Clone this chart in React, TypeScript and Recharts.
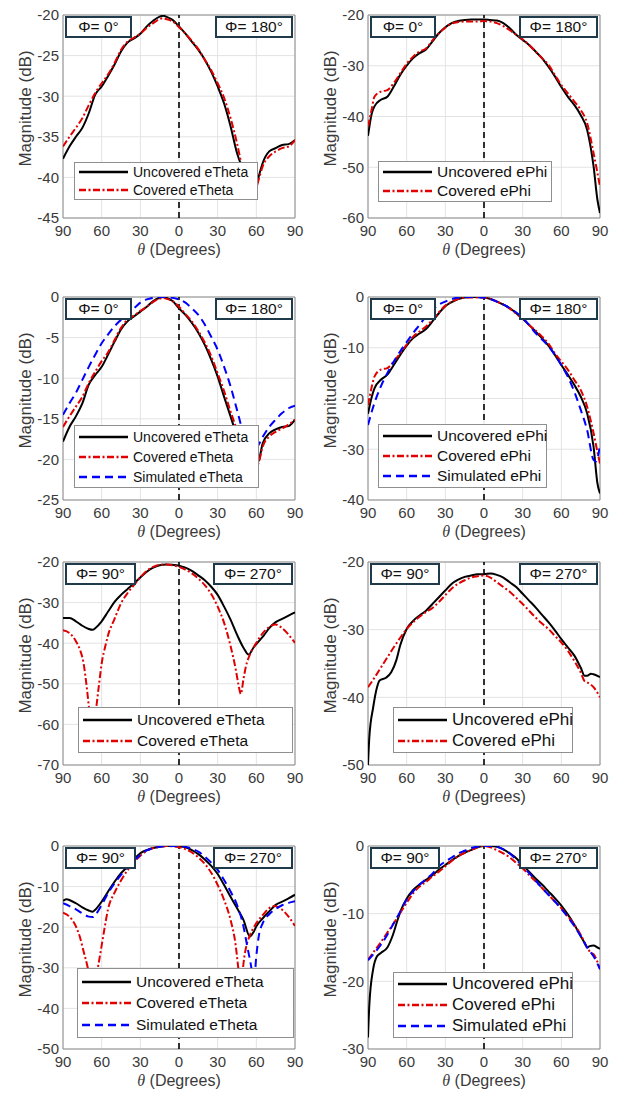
import {
  CartesianGrid,
  Line,
  LineChart,
  ReferenceArea,
  ReferenceLine,
  XAxis,
  YAxis,
} from "recharts";

const thetaTicks = [-90, -60, -30, 0, 30, 60, 90];

// row 1 left: eTheta, phi 0 / 180
const p1Theta = [-90, -85, -80, -75, -70, -65, -60, -55, -50, -45, -40, -35, -30, -25, -20, -15, -12, -10, -5, 0, 5, 10, 15, 20, 25, 30, 35, 40, 45, 48, 52, 56, 60, 62, 65, 70, 75, 80, 85, 90];
const p1Uncovered = [-37.7, -36.2, -35.0, -33.9, -32.1, -29.8, -28.8, -27.5, -26.1, -24.5, -23.4, -22.9, -22.3, -21.4, -20.7, -20.2, -20.1, -20.2, -20.6, -21.4, -22.3, -23.3, -24.3, -25.5, -27.0, -28.8, -30.9, -33.7, -37.0, -38.4, -40.5, -41.5, -41.0, -39.8, -38.2, -36.8, -36.4, -36.0, -35.9, -35.4];
const p1Covered = [-36.2, -35.0, -33.9, -32.7, -31.1, -29.6, -28.4, -27.3, -25.9, -24.3, -23.3, -22.8, -22.3, -21.6, -21.0, -20.5, -20.4, -20.5, -20.8, -21.5, -22.3, -23.2, -24.2, -25.5, -26.8, -28.4, -30.2, -32.7, -35.8, -38.0, -40.5, -41.8, -41.2, -40.2, -38.6, -37.4, -36.8, -36.4, -36.2, -35.4];

// row 1 right: ePhi, phi 0 / 180
const p2Theta = [-90, -87, -85, -80, -75, -70, -65, -60, -55, -50, -45, -40, -35, -30, -25, -20, -15, -10, -5, 0, 5, 10, 15, 20, 25, 30, 35, 40, 45, 50, 55, 60, 65, 70, 75, 80, 85, 88, 90];
const p2Uncovered = [-43.8, -39.3, -38.0, -36.7, -36.1, -34.1, -31.8, -30.0, -28.5, -27.5, -26.8, -25.2, -23.6, -22.4, -21.6, -21.2, -21.0, -20.9, -20.9, -20.9, -21.0, -21.1, -21.6, -22.6, -23.9, -24.9, -25.9, -27.2, -28.5, -30.2, -32.1, -34.2, -36.1, -37.7, -39.7, -42.6, -49.8, -56.4, -59.0];
const p2Covered = [-42.0, -38.4, -36.1, -35.1, -34.8, -33.4, -31.5, -29.6, -28.2, -27.2, -26.6, -25.0, -23.6, -22.5, -21.7, -21.4, -21.3, -21.3, -21.3, -21.2, -21.3, -21.6, -22.2, -23.0, -23.9, -24.8, -25.9, -27.2, -28.5, -29.8, -31.8, -33.8, -35.4, -37.0, -38.7, -41.3, -47.2, -51.1, -53.8];

// row 2 left: normalised eTheta, phi 0 / 180
const p3Theta = [-90, -85, -80, -75, -70, -65, -60, -55, -50, -45, -40, -35, -30, -25, -20, -15, -12, -10, -5, 0, 5, 10, 15, 20, 25, 30, 35, 40, 45, 50, 55, 60, 62, 65, 70, 75, 80, 85, 90];
const p3Uncovered = [-17.8, -16.0, -14.7, -13.1, -10.8, -9.6, -8.6, -7.1, -5.5, -4.0, -3.0, -2.4, -1.8, -1.2, -0.5, -0.1, 0, -0.1, -0.5, -1.4, -2.2, -3.2, -4.4, -5.9, -7.7, -9.8, -12.3, -14.7, -17.2, -19.5, -21.0, -20.6, -20.1, -18.0, -16.8, -16.3, -16.0, -15.9, -15.1];
const p3Covered = [-16.0, -14.7, -13.5, -12.3, -10.6, -9.2, -7.9, -6.8, -5.3, -3.8, -2.8, -2.3, -1.7, -1.2, -0.6, -0.2, -0.1, -0.2, -0.5, -1.2, -2.1, -3.0, -4.2, -5.6, -7.3, -9.4, -11.6, -14.1, -16.4, -19.0, -21.0, -21.0, -20.3, -18.4, -17.2, -16.6, -16.2, -15.7, -15.1];
const p3SimTheta = [-90, -85, -80, -75, -70, -65, -60, -55, -50, -45, -40, -35, -30, -25, -20, -15, -10, -5, 0, 5, 10, 15, 20, 25, 30, 35, 40, 45, 50, 55, 60, 65, 70, 75, 80, 85, 90];
const p3Simulated = [-14.5, -13.1, -11.8, -10.2, -8.6, -7.1, -5.7, -4.6, -3.6, -2.8, -2.0, -1.4, -0.7, -0.3, -0.1, 0, 0, -0.1, -0.3, -0.7, -1.4, -2.2, -3.4, -4.9, -6.5, -8.6, -11.0, -13.9, -16.8, -18.5, -18.5, -17.2, -16.0, -15.1, -14.3, -13.7, -13.4];

// row 2 right: normalised ePhi, phi 0 / 180
const p4Theta = [-90, -87, -85, -80, -75, -70, -65, -60, -55, -50, -45, -40, -35, -30, -25, -20, -15, -10, -5, 0, 5, 10, 15, 20, 25, 30, 35, 40, 45, 50, 55, 60, 65, 70, 75, 80, 85, 88, 90];
const p4Uncovered = [-23.0, -19.6, -18.0, -16.3, -15.3, -13.4, -11.4, -9.6, -8.1, -7.2, -6.3, -4.8, -3.2, -1.8, -1.0, -0.4, -0.1, 0, 0, -0.1, -0.4, -0.9, -1.5, -2.2, -3.2, -4.3, -5.5, -6.8, -8.1, -9.6, -11.4, -13.4, -15.3, -17.3, -19.6, -22.9, -29.5, -36.7, -38.7];
const p4Covered = [-21.3, -17.6, -15.7, -14.3, -14.0, -12.7, -11.1, -9.4, -7.8, -6.8, -5.8, -4.5, -3.0, -1.7, -0.9, -0.4, -0.1, -0.1, -0.1, -0.1, -0.4, -0.9, -1.5, -2.3, -3.3, -4.3, -5.5, -6.6, -7.8, -9.2, -11.1, -12.7, -14.3, -16.3, -18.3, -21.6, -26.8, -30.5, -32.8];
const p4SimTheta = [-90, -85, -80, -75, -70, -65, -60, -55, -50, -45, -40, -35, -30, -25, -20, -10, 0, 10, 20, 30, 40, 50, 60, 65, 70, 75, 80, 85, 87, 90];
const p4Simulated = [-25.2, -20.9, -17.6, -15.0, -12.7, -10.7, -8.9, -7.1, -5.5, -3.8, -2.5, -1.5, -0.9, -0.4, -0.1, 0, -0.1, -0.9, -2.2, -4.1, -7.1, -9.7, -13.4, -15.7, -18.6, -22.2, -26.2, -32.1, -32.4, -29.1];

// row 3 left: eTheta, phi 90 / 270
const p5UncTheta = [-90, -85, -80, -75, -70, -67, -65, -60, -55, -50, -45, -40, -35, -30, -25, -20, -15, -10, -5, 0, 5, 10, 15, 20, 25, 30, 35, 40, 45, 50, 54, 58, 62, 66, 70, 75, 80, 85, 90];
const p5Uncovered = [-33.8, -33.8, -34.6, -35.7, -36.5, -36.7, -36.3, -34.6, -32.2, -29.8, -28.1, -26.7, -25.3, -23.8, -22.4, -21.4, -20.8, -20.6, -20.7, -20.9, -21.4, -22.2, -23.3, -24.5, -26.1, -28.1, -31.0, -34.2, -37.9, -41.1, -42.8, -41.0, -39.5, -38.0, -36.3, -34.8, -34.0, -33.2, -32.4];
const p5CovTheta = [-90, -85, -80, -77, -74, -72, -70, -67, -64, -62, -60, -57, -55, -50, -45, -40, -35, -30, -25, -20, -15, -10, -5, 0, 5, 10, 15, 20, 25, 30, 35, 40, 44, 46, 48, 50, 52, 55, 60, 65, 70, 75, 80, 85, 90];
const p5Covered = [-36.8, -37.5, -39.5, -41.5, -45.0, -49.7, -55.4, -64.0, -55.4, -50.0, -45.0, -40.5, -38.0, -34.0, -30.2, -27.7, -25.7, -23.8, -22.2, -21.2, -20.7, -20.6, -20.8, -21.2, -21.9, -22.8, -24.1, -25.7, -27.9, -31.0, -35.0, -40.7, -46.4, -50.0, -52.5, -48.9, -45.6, -42.8, -39.9, -37.5, -36.0, -35.4, -36.3, -37.9, -39.9];

// row 3 right: ePhi, phi 90 / 270
const p6UncTheta = [-90, -89, -86, -83, -81, -76, -72, -68, -65, -60, -55, -50, -45, -40, -35, -30, -25, -20, -15, -10, -5, 0, 5, 10, 15, 20, 25, 30, 35, 40, 45, 50, 55, 60, 65, 70, 75, 78, 80, 83, 85, 90];
const p6Uncovered = [-50, -46, -41.5, -38.5, -37.5, -37.1, -36.3, -34.5, -32.3, -29.9, -28.7, -27.9, -27.2, -26.2, -25.2, -24.2, -23.2, -22.6, -22.2, -22.0, -21.8, -21.8, -21.7, -21.9, -22.3, -23.0, -23.7, -24.7, -25.7, -26.7, -27.8, -28.9, -30.1, -31.4, -32.6, -33.8, -35.6, -36.8, -36.8, -36.5, -36.6, -37.0];
const p6CovTheta = [-90, -85, -80, -75, -70, -65, -60, -55, -50, -45, -40, -35, -30, -25, -20, -15, -10, -5, 0, 5, 10, 15, 20, 25, 30, 35, 40, 45, 50, 55, 60, 65, 70, 75, 78, 80, 85, 90];
const p6Covered = [-38.5, -37.1, -35.6, -34.1, -32.6, -31.2, -29.9, -28.9, -28.1, -27.4, -26.8, -25.9, -24.9, -23.9, -23.2, -22.7, -22.3, -22.1, -22.0, -22.3, -23.0, -23.7, -24.4, -25.3, -26.2, -27.2, -28.2, -29.1, -29.9, -30.9, -31.9, -33.1, -34.6, -36.3, -37.6, -37.8, -38.5, -40.0];

// row 4 left: normalised eTheta, phi 90 / 270
const p7UncTheta = [-90, -87, -85, -80, -75, -70, -67, -65, -60, -55, -50, -45, -40, -35, -30, -25, -20, -15, -10, -5, 0, 5, 10, 15, 20, 25, 30, 35, 40, 45, 50, 55, 58, 60, 65, 70, 75, 80, 85, 90];
const p7Uncovered = [-13.5, -13.1, -13.3, -14.1, -15.1, -15.9, -16.2, -15.7, -13.7, -11.2, -8.8, -6.7, -5.1, -3.3, -1.8, -1.0, -0.5, -0.2, 0, 0, -0.1, -0.3, -1.0, -2.0, -3.3, -4.9, -6.9, -9.6, -12.5, -15.3, -18.2, -22.3, -21.1, -19.8, -17.8, -16.1, -14.5, -13.7, -12.9, -12.0];
const p7CovTheta = [-90, -85, -80, -77, -74, -71, -67, -63, -61, -58, -55, -50, -45, -40, -35, -30, -25, -20, -15, -10, -5, 0, 5, 10, 15, 20, 25, 30, 35, 40, 44, 46, 48, 50, 52, 55, 60, 65, 70, 74, 80, 85, 90];
const p7Covered = [-16.4, -17.4, -19.8, -22.3, -26.0, -29.7, -37.0, -30.1, -26.4, -20.7, -15.5, -11.5, -8.5, -6.0, -4.0, -2.4, -1.2, -0.5, -0.2, 0, -0.1, -0.3, -0.8, -1.6, -2.8, -4.4, -6.6, -9.6, -13.3, -18.2, -24.5, -30.1, -36.0, -29.0, -25.0, -22.0, -19.0, -17.0, -15.3, -14.8, -15.7, -17.4, -19.7];
const p7SimTheta = [-90, -85, -80, -75, -70, -67, -65, -60, -55, -50, -45, -40, -35, -30, -25, -20, -15, -10, -5, 0, 5, 10, 15, 20, 25, 30, 35, 40, 45, 50, 53, 56, 58, 60, 62, 65, 70, 75, 80, 85, 90];
const p7Simulated = [-14.1, -14.8, -15.6, -16.6, -17.4, -17.5, -17.0, -14.5, -11.6, -9.2, -7.1, -5.2, -3.6, -2.2, -1.1, -0.5, -0.2, 0, 0, 0, -0.2, -0.7, -1.4, -2.6, -4.1, -5.9, -8.4, -11.2, -14.5, -19.8, -24.8, -29.7, -34.0, -27.0, -22.0, -19.0, -16.8, -15.5, -14.6, -14.0, -13.6];

// row 4 right: normalised ePhi, phi 90 / 270
const p8UncTheta = [-90, -89, -86, -83, -80, -75, -71, -67, -64, -60, -55, -50, -45, -40, -35, -30, -25, -20, -15, -10, -5, 0, 5, 10, 15, 20, 25, 30, 35, 40, 45, 50, 55, 60, 65, 70, 75, 78, 80, 82, 85, 88, 90];
const p8Uncovered = [-28.3, -23.6, -18.2, -16.3, -15.8, -15.0, -13.3, -10.9, -9.3, -7.8, -6.5, -5.7, -5.0, -4.3, -3.5, -2.8, -2.1, -1.5, -1.0, -0.6, -0.2, 0, 0, -0.1, -0.5, -1.1, -1.8, -2.8, -3.8, -4.8, -5.7, -6.7, -7.7, -8.8, -10.1, -11.6, -13.3, -14.3, -15.0, -14.8, -14.7, -15.0, -15.2];
const p8CovTheta = [-90, -85, -80, -75, -70, -65, -60, -55, -50, -45, -40, -35, -30, -25, -20, -15, -10, -5, 0, 5, 10, 15, 20, 25, 30, 35, 40, 45, 50, 55, 60, 65, 70, 75, 80, 83, 85, 90];
const p8Covered = [-16.8, -15.5, -14.2, -12.8, -11.4, -9.9, -8.4, -7.0, -6.0, -5.3, -4.5, -3.8, -3.0, -2.2, -1.5, -1.0, -0.6, -0.2, 0, -0.2, -0.6, -1.1, -1.7, -2.5, -3.3, -4.3, -5.2, -6.2, -7.2, -8.2, -9.2, -10.4, -11.6, -13.1, -15.0, -15.8, -16.0, -18.2];
const p8SimTheta = [-90, -85, -80, -75, -70, -65, -60, -55, -50, -45, -40, -35, -30, -25, -20, -15, -10, -5, 0, 5, 10, 15, 20, 25, 30, 35, 40, 45, 50, 55, 60, 65, 70, 75, 80, 85, 90];
const p8Simulated = [-16.9, -15.8, -14.6, -13.1, -11.4, -9.7, -7.9, -6.7, -5.7, -4.9, -4.1, -3.0, -2.3, -1.7, -1.1, -0.7, -0.3, -0.1, 0, 0, -0.1, -0.5, -1.1, -2.0, -3.0, -4.0, -5.1, -6.2, -7.2, -8.2, -9.3, -10.5, -11.8, -13.3, -15.0, -16.3, -18.2];

const textColor = "#3a3a3a";
const axisColor = "#8c8c8c";
const gridColor = "#e3e3e3";
const phiBorder = "#1f3a4a";

const UNCOVERED = { color: "#000000", dash: undefined as string | undefined };
const COVERED = { color: "#e00000", dash: "7 2.5 2 2.5" };
const SIMULATED = { color: "#0000ff", dash: "8 5" };

// chart box (every panel uses the same plot rectangle)
const CHART_W = 310;
const CHART_H = 258;
const PLOT_L = 63;
const PLOT_R = 295;
const PLOT_T = 10;
const Y_AXIS_W = 45;

type Series = {
  name: string;
  theta: number[];
  mag: number[];
  color: string;
  dash?: string;
};

type LegendSpec = {
  left: number;
  top: number;
  width: number;
  height: number;
  fontSize: number;
  rowH: number;
};

type PanelSpec = {
  left: number;
  top: number;
  yDomain: [number, number];
  yTicks: number[];
  phi: [string, string];
  phiW: [number, number];
  series: Series[];
  legend: LegendSpec;
};

const toPoints = (theta: number[], mag: number[]) =>
  theta.map((t, i) => ({ theta: t, mag: mag[i] }));

const PHI_A: [string, string] = ["Φ= 0°", "Φ= 180°"];
const PHI_B: [string, string] = ["Φ= 90°", "Φ= 270°"];

const panels: PanelSpec[] = [
  {
    left: 0,
    top: 5,
    yDomain: [-45, -20],
    yTicks: [-45, -40, -35, -30, -25, -20],
    phi: PHI_A,
    phiW: [67, 78],
    series: [
      { name: "Uncovered eTheta", theta: p1Theta, mag: p1Uncovered, ...UNCOVERED },
      { name: "Covered eTheta", theta: p1Theta, mag: p1Covered, ...COVERED },
    ],
    legend: { left: 74, top: 157, width: 184, height: 38, fontSize: 14, rowH: 18.5 },
  },
  {
    left: 305,
    top: 5,
    yDomain: [-60, -20],
    yTicks: [-60, -50, -40, -30, -20],
    phi: PHI_A,
    phiW: [66, 79],
    series: [
      { name: "Uncovered ePhi", theta: p2Theta, mag: p2Uncovered, ...UNCOVERED },
      { name: "Covered ePhi", theta: p2Theta, mag: p2Covered, ...COVERED },
    ],
    legend: { left: 73, top: 156, width: 174, height: 41, fontSize: 15.5, rowH: 19 },
  },
  {
    left: 0,
    top: 287,
    yDomain: [-25, 0],
    yTicks: [-25, -20, -15, -10, -5, 0],
    phi: PHI_A,
    phiW: [67, 78],
    series: [
      { name: "Uncovered eTheta", theta: p3Theta, mag: p3Uncovered, ...UNCOVERED },
      { name: "Covered eTheta", theta: p3Theta, mag: p3Covered, ...COVERED },
      { name: "Simulated eTheta", theta: p3SimTheta, mag: p3Simulated, ...SIMULATED },
    ],
    legend: { left: 74, top: 138, width: 185, height: 63, fontSize: 14, rowH: 20 },
  },
  {
    left: 305,
    top: 287,
    yDomain: [-40, 0],
    yTicks: [-40, -30, -20, -10, 0],
    phi: PHI_A,
    phiW: [66, 79],
    series: [
      { name: "Uncovered ePhi", theta: p4Theta, mag: p4Uncovered, ...UNCOVERED },
      { name: "Covered ePhi", theta: p4Theta, mag: p4Covered, ...COVERED },
      { name: "Simulated ePhi", theta: p4SimTheta, mag: p4Simulated, ...SIMULATED },
    ],
    legend: { left: 73, top: 137, width: 169, height: 64, fontSize: 15.5, rowH: 20 },
  },
  {
    left: 0,
    top: 552,
    yDomain: [-70, -20],
    yTicks: [-70, -60, -50, -40, -30, -20],
    phi: PHI_B,
    phiW: [71, 80],
    series: [
      { name: "Uncovered eTheta", theta: p5UncTheta, mag: p5Uncovered, ...UNCOVERED },
      { name: "Covered eTheta", theta: p5CovTheta, mag: p5Covered, ...COVERED },
    ],
    legend: { left: 78, top: 155, width: 215, height: 46, fontSize: 15.5, rowH: 21 },
  },
  {
    left: 305,
    top: 552,
    yDomain: [-50, -20],
    yTicks: [-50, -40, -30, -20],
    phi: PHI_B,
    phiW: [70, 79],
    series: [
      { name: "Uncovered ePhi", theta: p6UncTheta, mag: p6Uncovered, ...UNCOVERED },
      { name: "Covered ePhi", theta: p6CovTheta, mag: p6Covered, ...COVERED },
    ],
    legend: { left: 88, top: 155, width: 180, height: 46, fontSize: 17, rowH: 21 },
  },
  {
    left: 0,
    top: 836,
    yDomain: [-50, 0],
    yTicks: [-50, -40, -30, -20, -10, 0],
    phi: PHI_B,
    phiW: [71, 80],
    series: [
      { name: "Uncovered eTheta", theta: p7UncTheta, mag: p7Uncovered, ...UNCOVERED },
      { name: "Covered eTheta", theta: p7CovTheta, mag: p7Covered, ...COVERED },
      { name: "Simulated eTheta", theta: p7SimTheta, mag: p7Simulated, ...SIMULATED },
    ],
    legend: { left: 77, top: 132, width: 217, height: 70, fontSize: 15.5, rowH: 21.5 },
  },
  {
    left: 305,
    top: 836,
    yDomain: [-30, 0],
    yTicks: [-30, -20, -10, 0],
    phi: PHI_B,
    phiW: [70, 79],
    series: [
      { name: "Uncovered ePhi", theta: p8UncTheta, mag: p8Uncovered, ...UNCOVERED },
      { name: "Covered ePhi", theta: p8CovTheta, mag: p8Covered, ...COVERED },
      { name: "Simulated ePhi", theta: p8SimTheta, mag: p8Simulated, ...SIMULATED },
    ],
    legend: { left: 88, top: 136, width: 180, height: 66, fontSize: 17, rowH: 21 },
  },
];

function XLabel(props: any) {
  const vb = props.viewBox || {};
  const cx = vb.x + vb.width / 2;
  return (
    <text x={cx} y={vb.y + 37} textAnchor="middle" fontSize={16} fill={textColor}>
      <tspan fontStyle="italic" fontFamily="'Liberation Serif', serif">θ</tspan> (Degrees)
    </text>
  );
}

function YLabel(props: any) {
  const vb = props.viewBox || {};
  const x = vb.x + vb.width - 38;
  const y = vb.y + vb.height / 2 - 8;
  return (
    <text
      x={x}
      y={y}
      transform={`rotate(-90 ${x} ${y})`}
      textAnchor="middle"
      dominantBaseline="central"
      fontSize={17}
      fill={textColor}
    >
      Magnitude (dB)
    </text>
  );
}

function PhiBox({ text, width, side }: { text: string; width: number; side: "left" | "right" }) {
  const pos = side === "left" ? { left: PLOT_L + 2 } : { left: PLOT_R - 2 - width };
  return (
    <div
      style={{
        position: "absolute",
        top: PLOT_T + 1,
        width,
        height: 22,
        boxSizing: "border-box",
        border: `2px solid ${phiBorder}`,
        background: "#fff",
        fontSize: 15.5,
        lineHeight: "18px",
        textAlign: "center",
        color: "#111",
        whiteSpace: "nowrap",
        ...pos,
      }}
    >
      {text}
    </div>
  );
}

function LegendBox({ spec, series }: { spec: LegendSpec; series: Series[] }) {
  return (
    <div
      style={{
        position: "absolute",
        left: spec.left,
        top: spec.top,
        width: spec.width,
        height: spec.height,
        boxSizing: "border-box",
        border: "1px solid #8f8f8f",
        background: "#fff",
        display: "flex",
        flexDirection: "column",
        justifyContent: "center",
        paddingLeft: 4,
      }}
    >
      {series.map((s) => (
        <div key={s.name} style={{ display: "flex", alignItems: "center", height: spec.rowH }}>
          <svg width={49} height={8} style={{ flex: "none" }}>
            <line x1={0} y1={4} x2={49} y2={4} stroke={s.color} strokeWidth={2.5} strokeDasharray={s.dash} />
          </svg>
          <span style={{ marginLeft: 5, fontSize: spec.fontSize, color: "#111", whiteSpace: "nowrap" }}>
            {s.name}
          </span>
        </div>
      ))}
    </div>
  );
}

function Panel({ spec }: { spec: PanelSpec }) {
  const [yMin, yMax] = spec.yDomain;
  return (
    <div style={{ position: "absolute", left: spec.left, top: spec.top, width: CHART_W, height: CHART_H }}>
      <LineChart
        width={CHART_W}
        height={CHART_H}
        margin={{ top: PLOT_T, right: CHART_W - PLOT_R, bottom: 0, left: PLOT_L - Y_AXIS_W }}
      >
        <CartesianGrid stroke={gridColor} />
        <XAxis
          type="number"
          dataKey="theta"
          domain={[-90, 90]}
          ticks={thetaTicks}
          allowDataOverflow
          tickFormatter={(v) => String(Math.abs(Number(v)))}
          height={45}
          axisLine={false}
          tickLine={false}
          tickSize={0}
          tickMargin={7}
          tick={{ fill: textColor, fontSize: 15 }}
          label={{ content: XLabel }}
        />
        <YAxis
          type="number"
          domain={spec.yDomain}
          ticks={spec.yTicks}
          allowDataOverflow
          width={Y_AXIS_W}
          axisLine={false}
          tickLine={false}
          tickSize={0}
          tickMargin={4}
          tick={{ fill: textColor, fontSize: 15 }}
          label={{ content: YLabel }}
        />
        <ReferenceArea x1={-90} x2={90} y1={yMin} y2={yMax} fill="none" stroke={axisColor} strokeWidth={1} />
        <ReferenceLine x={0} stroke="#000" strokeWidth={1.6} strokeDasharray="6 4" />
        {spec.series.map((s) => (
          <Line
            key={s.name}
            data={toPoints(s.theta, s.mag)}
            dataKey="mag"
            type="monotone"
            stroke={s.color}
            strokeWidth={2}
            strokeDasharray={s.dash}
            dot={false}
            activeDot={false}
            isAnimationActive={false}
          />
        ))}
      </LineChart>
      <PhiBox text={spec.phi[0]} width={spec.phiW[0]} side="left" />
      <PhiBox text={spec.phi[1]} width={spec.phiW[1]} side="right" />
      <LegendBox spec={spec.legend} series={spec.series} />
    </div>
  );
}

export default function App() {
  return (
    <div
      style={{
        position: "absolute",
        left: 0,
        top: 0,
        width: 621,
        height: 1097,
        background: "#fff",
        fontFamily: "'Liberation Sans', Arial, sans-serif",
      }}
    >
      {panels.map((p, i) => (
        <Panel key={i} spec={p} />
      ))}
    </div>
  );
}
